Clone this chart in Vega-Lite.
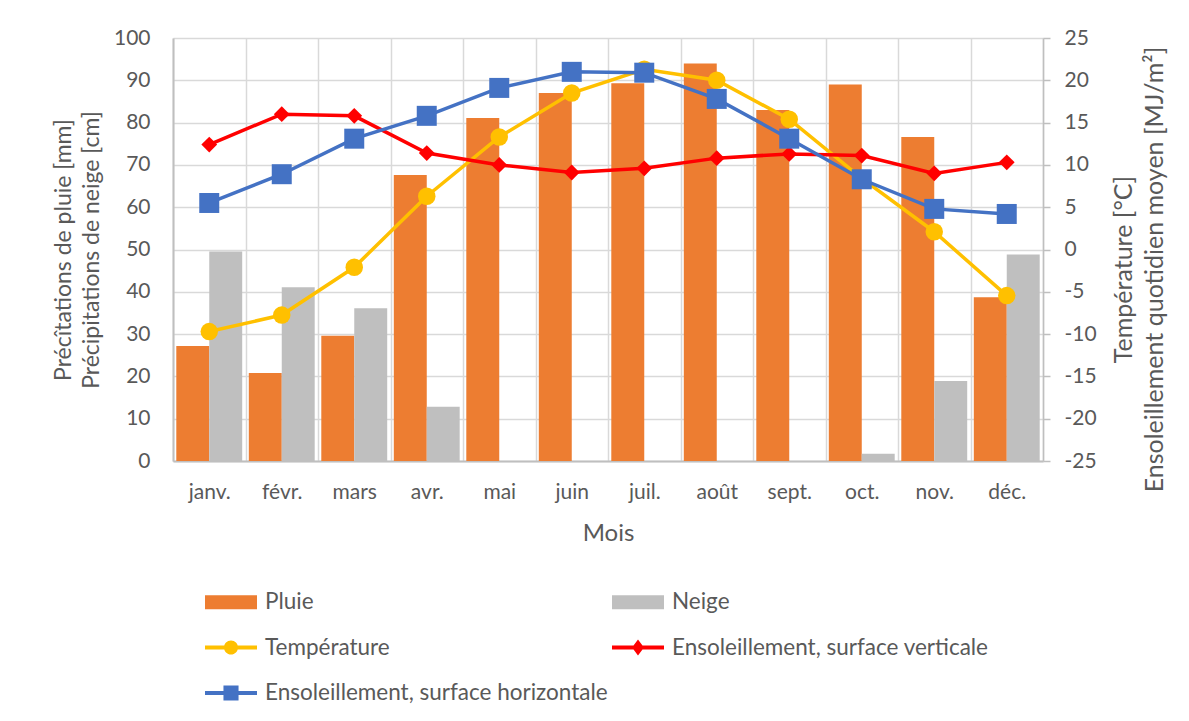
{
  "$schema": "https://vega.github.io/schema/vega-lite/v6.json",
  "width": 870,
  "height": 423,
  "autosize": {"type": "none"},
  "padding": {"left": 173, "top": 38, "right": 146, "bottom": 260},
  "background": "white",
  "config": {
    "view": {"stroke": null},
    "font": "Lato",
    "axis": {"labelFont": "Lato", "titleFont": "Lato", "labelColor": "#595959", "titleColor": "#595959", "titleFontWeight": "normal"},
    "legend": {"labelFont": "Lato"}
  },
  "data": {"values": [
    {"mois": "janv.", "serie": "Pluie", "valeur": 27.2},
    {"mois": "févr.", "serie": "Pluie", "valeur": 20.8},
    {"mois": "mars", "serie": "Pluie", "valeur": 29.6},
    {"mois": "avr.", "serie": "Pluie", "valeur": 67.6},
    {"mois": "mai", "serie": "Pluie", "valeur": 81.1},
    {"mois": "juin", "serie": "Pluie", "valeur": 87.0},
    {"mois": "juil.", "serie": "Pluie", "valeur": 89.3},
    {"mois": "août", "serie": "Pluie", "valeur": 94.0},
    {"mois": "sept.", "serie": "Pluie", "valeur": 83.0},
    {"mois": "oct.", "serie": "Pluie", "valeur": 89.0},
    {"mois": "nov.", "serie": "Pluie", "valeur": 76.6},
    {"mois": "déc.", "serie": "Pluie", "valeur": 38.7},
    {"mois": "janv.", "serie": "Neige", "valeur": 49.5},
    {"mois": "févr.", "serie": "Neige", "valeur": 41.1},
    {"mois": "mars", "serie": "Neige", "valeur": 36.1},
    {"mois": "avr.", "serie": "Neige", "valeur": 12.8},
    {"mois": "mai", "serie": "Neige", "valeur": 0},
    {"mois": "juin", "serie": "Neige", "valeur": 0},
    {"mois": "juil.", "serie": "Neige", "valeur": 0},
    {"mois": "août", "serie": "Neige", "valeur": 0},
    {"mois": "sept.", "serie": "Neige", "valeur": 0},
    {"mois": "oct.", "serie": "Neige", "valeur": 1.7},
    {"mois": "nov.", "serie": "Neige", "valeur": 18.9},
    {"mois": "déc.", "serie": "Neige", "valeur": 48.8},
    {"mois": "janv.", "serie": "Température", "valeur": -9.7},
    {"mois": "févr.", "serie": "Température", "valeur": -7.75},
    {"mois": "mars", "serie": "Température", "valeur": -2.1},
    {"mois": "avr.", "serie": "Température", "valeur": 6.3},
    {"mois": "mai", "serie": "Température", "valeur": 13.3},
    {"mois": "juin", "serie": "Température", "valeur": 18.5},
    {"mois": "juil.", "serie": "Température", "valeur": 21.3},
    {"mois": "août", "serie": "Température", "valeur": 20.0},
    {"mois": "sept.", "serie": "Température", "valeur": 15.4},
    {"mois": "oct.", "serie": "Température", "valeur": 8.4},
    {"mois": "nov.", "serie": "Température", "valeur": 2.1},
    {"mois": "déc.", "serie": "Température", "valeur": -5.45},
    {"mois": "janv.", "serie": "Ensoleillement, surface verticale", "valeur": 12.4},
    {"mois": "févr.", "serie": "Ensoleillement, surface verticale", "valeur": 16.0},
    {"mois": "mars", "serie": "Ensoleillement, surface verticale", "valeur": 15.8},
    {"mois": "avr.", "serie": "Ensoleillement, surface verticale", "valeur": 11.4},
    {"mois": "mai", "serie": "Ensoleillement, surface verticale", "valeur": 10.0},
    {"mois": "juin", "serie": "Ensoleillement, surface verticale", "valeur": 9.1},
    {"mois": "juil.", "serie": "Ensoleillement, surface verticale", "valeur": 9.6},
    {"mois": "août", "serie": "Ensoleillement, surface verticale", "valeur": 10.8},
    {"mois": "sept.", "serie": "Ensoleillement, surface verticale", "valeur": 11.3},
    {"mois": "oct.", "serie": "Ensoleillement, surface verticale", "valeur": 11.1},
    {"mois": "nov.", "serie": "Ensoleillement, surface verticale", "valeur": 9.0},
    {"mois": "déc.", "serie": "Ensoleillement, surface verticale", "valeur": 10.3},
    {"mois": "janv.", "serie": "Ensoleillement, surface horizontale", "valeur": 5.5},
    {"mois": "févr.", "serie": "Ensoleillement, surface horizontale", "valeur": 8.9},
    {"mois": "mars", "serie": "Ensoleillement, surface horizontale", "valeur": 13.1},
    {"mois": "avr.", "serie": "Ensoleillement, surface horizontale", "valeur": 15.8},
    {"mois": "mai", "serie": "Ensoleillement, surface horizontale", "valeur": 19.1},
    {"mois": "juin", "serie": "Ensoleillement, surface horizontale", "valeur": 21.0},
    {"mois": "juil.", "serie": "Ensoleillement, surface horizontale", "valeur": 20.9},
    {"mois": "août", "serie": "Ensoleillement, surface horizontale", "valeur": 17.8},
    {"mois": "sept.", "serie": "Ensoleillement, surface horizontale", "valeur": 13.1},
    {"mois": "oct.", "serie": "Ensoleillement, surface horizontale", "valeur": 8.3},
    {"mois": "nov.", "serie": "Ensoleillement, surface horizontale", "valeur": 4.8},
    {"mois": "déc.", "serie": "Ensoleillement, surface horizontale", "valeur": 4.2}
  ]},
  "encoding": {
    "x": {
      "field": "mois", "type": "nominal", "sort": null,
      "scale": {"paddingInner": 0, "paddingOuter": 0},
      "axis": {
        "title": "Mois", "titleFontSize": 24, "titlePadding": 19,
        "labelAngle": 0, "labelFontSize": 21, "labelPadding": 20,
        "ticks": false, "tickSize": 0, "tickBand": "extent",
        "domainColor": "#BFBFBF", "domainWidth": 2,
        "grid": true, "gridColor": "#D9D9D9", "gridWidth": 1.5
      }
    },
    "color": {
      "field": "serie", "type": "nominal",
      "scale": {
        "domain": ["Pluie", "Température", "Ensoleillement, surface horizontale", "Neige", "Ensoleillement, surface verticale"],
        "range": ["#ED7D31", "#FFC000", "#4472C4", "#BFBFBF", "#FF0000"]
      },
      "legend": {
        "title": null, "orient": "none", "legendX": 32, "legendY": 538,
        "direction": "vertical", "columns": 2, "columnPadding": 4, "rowPadding": 7.5,
        "padding": 0, "symbolSize": 2704, "labelOffset": 8, "labelLimit": 600,
        "labelFontSize": 22.5, "labelColor": "#595959",
        "encode": {"symbols": {"update": {
          "shape": {"signal": "datum.value === 'Pluie' || datum.value === 'Neige' ? 'M-1,-0.27H1V0.27H-1Z' : datum.value === 'Température' ? 'M-1,-0.08H1V0.08H-1Z M-0.27,0A0.27,0.27 0 1,1 0.27,0A0.27,0.27 0 1,1 -0.27,0Z' : datum.value === 'Ensoleillement, surface verticale' ? 'M-1,-0.08H1V0.08H-1Z M0,-0.31L0.23,0L0,0.31L-0.23,0Z' : 'M-1,-0.08H1V0.08H-1Z M-0.29,-0.29H0.29V0.29H-0.29Z'"},
          "fill": {"signal": "scale('color', datum.value)"},
          "fillOpacity": {"value": 1},
          "opacity": {"value": 1},
          "stroke": {"value": "transparent"},
          "strokeWidth": {"value": 0}
        }}}
      }
    }
  },
  "layer": [
    {
      "transform": [{"filter": "datum.serie === 'Pluie' || datum.serie === 'Neige'"}],
      "mark": {"type": "bar"},
      "encoding": {
        "xOffset": {"field": "serie", "type": "nominal", "sort": ["Pluie", "Neige"], "scale": {"paddingInner": 0, "paddingOuter": 0.1}},
        "y": {
          "field": "valeur", "type": "quantitative",
          "scale": {"domain": [0, 100], "nice": false, "zero": true},
          "axis": {
            "title": ["Précîtations de pluie [mm]", "Précipitations de neige [cm]"],
            "titleFontSize": 23, "titleLineHeight": 28, "titlePadding": 10,
            "values": [0, 10, 20, 30, 40, 50, 60, 70, 80, 90, 100],
            "labelFontSize": 21, "labelPadding": 23, "ticks": false, "tickSize": 0,
            "domainColor": "#BFBFBF", "domainWidth": 2,
            "grid": true, "gridColor": "#D9D9D9", "gridWidth": 1.5
          }
        }
      }
    },
    {
      "encoding": {
        "y": {
          "field": "valeur", "type": "quantitative",
          "scale": {"domain": [-25, 25], "nice": false, "zero": false},
          "axis": {
            "orient": "right",
            "title": ["Température [°C]", "Ensoleillement quotidien moyen [MJ/m²]"],
            "titleFontSize": 25, "titleLineHeight": 31,
            "titleAngle": -90, "titleBaseline": "top", "titleX": 68, "titleY": 231,
            "values": [-25, -20, -15, -10, -5, 0, 5, 10, 15, 20, 25],
            "labelExpr": "'' + datum.value",
            "labelFontSize": 21, "labelPadding": 14,
            "ticks": true, "tickSize": 7, "tickColor": "#BFBFBF", "tickWidth": 1.5,
            "domainColor": "#BFBFBF", "domainWidth": 1.5,
            "grid": false
          }
        }
      },
      "layer": [
        {
          "transform": [{"filter": "datum.serie === 'Température'"}],
          "mark": {"type": "line", "strokeWidth": 3.5, "point": {"filled": true, "shape": "circle", "size": 306, "opacity": 1}}
        },
        {
          "transform": [{"filter": "datum.serie === 'Ensoleillement, surface verticale'"}],
          "mark": {"type": "line", "strokeWidth": 3.5, "point": {"filled": true, "shape": "diamond", "size": 250, "opacity": 1}}
        },
        {
          "transform": [{"filter": "datum.serie === 'Ensoleillement, surface horizontale'"}],
          "mark": {"type": "line", "strokeWidth": 3.5, "point": {"filled": true, "shape": "square", "size": 400, "opacity": 1}}
        }
      ]
    }
  ],
  "resolve": {"scale": {"y": "independent"}}
}
